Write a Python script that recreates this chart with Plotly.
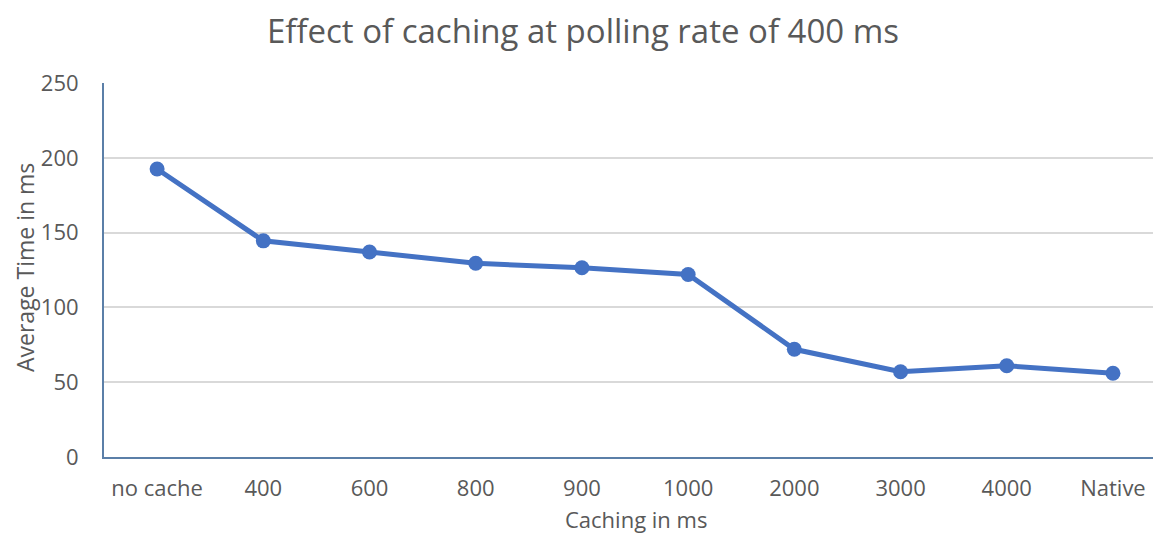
import plotly.graph_objects as go

categories = ["no cache", "400", "600", "800", "900", "1000", "2000", "3000", "4000", "Native"]
avg_time = [192.5, 144.5, 137, 129.5, 126.5, 122, 72, 57, 61, 56]
y_ticks = [0, 50, 100, 150, 200, 250]
x_title = "Caching in ms"
y_title = "Average Time in ms"

font_family = "Open Sans, Noto Sans, sans-serif"
gray = "#595959"

# page body has an 8px margin; size the figure so the page fits the window
W, H = 1145, 526
L, T, B = 96, 75, 77
PW, PH = W - L, H - T - B

fig = go.Figure()
fig.add_trace(go.Scatter(
    x=list(range(len(categories))), y=avg_time, mode="lines+markers",
    line=dict(color="#4472C4", width=5),
    marker=dict(color="#4472C4", size=15),
    showlegend=False,
))

fig.update_layout(
    width=W, height=H,
    paper_bgcolor="white", plot_bgcolor="white",
    margin=dict(l=L, r=0, t=T, b=B, autoexpand=False),
    title=dict(text="Effect of caching at polling rate of 400 ms", x=575 / W, xanchor="center",
               xref="container", y=1 - 23 / H, yref="container", yanchor="middle",
               font=dict(family=font_family, size=33, color=gray)),
    xaxis=dict(
        tickmode="array", tickvals=list(range(len(categories))), ticktext=categories,
        range=[-0.5, 9.377], showgrid=False, zeroline=False, automargin=False,
        showline=True, linecolor="#5b7fa8", linewidth=2,
        ticks="outside", ticklen=11, tickcolor="rgba(0,0,0,0)",
        tickfont=dict(family=font_family, size=22, color=gray),
    ),
    yaxis=dict(
        range=[0, 250], tickvals=y_ticks, showgrid=True, gridcolor="#d9d9d9", gridwidth=2,
        zeroline=False, showline=True, linecolor="#5b7fa8", linewidth=2, automargin=False,
        ticks="outside", ticklen=19, tickcolor="rgba(0,0,0,0)",
        tickfont=dict(family=font_family, size=22, color=gray),
    ),
    annotations=[
        dict(text=x_title, xref="paper", yref="paper",
             x=(628 - L) / PW, y=-(511 - (T + PH)) / PH, xanchor="center", yanchor="middle",
             showarrow=False, font=dict(family=font_family, size=22, color=gray)),
        dict(text=y_title, xref="paper", yref="paper", textangle=-90,
             x=(17 - L) / PW, y=1 - (260 - T) / PH, xanchor="center", yanchor="middle",
             showarrow=False, font=dict(family=font_family, size=23, color=gray)),
    ],
)

fig.write_html("out.html")
